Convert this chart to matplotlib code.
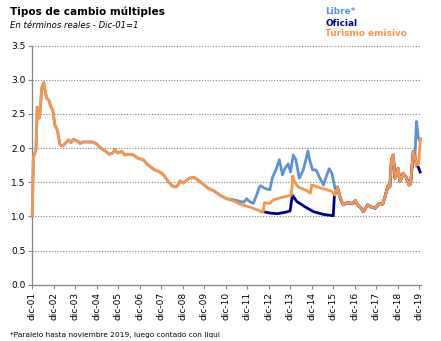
import matplotlib
matplotlib.use("Agg")
from matplotlib import pyplot as plt
import numpy as np

# años desde dic-01 (0 = dic-01) y valores, en términos reales Dic-01=1
# tramo común a las tres series (2002-2010)
comun_t = [0, 0.05, 0.17, 0.23, 0.33, 0.38, 0.44, 0.53, 0.59, 0.67, 0.78, 0.86, 0.95,
           1.05, 1.16, 1.29, 1.38, 1.48, 1.6, 1.69, 1.8, 1.91, 2.03, 2.12, 2.22, 2.34,
           2.53, 2.76, 2.96, 3.15, 3.38, 3.58, 3.74, 3.85, 3.96, 4.16, 4.31, 4.45, 4.7,
           4.93, 5.16, 5.39, 5.7, 5.94, 6.1, 6.33, 6.49, 6.69, 6.78, 6.87, 7.02, 7.15,
           7.3, 7.52, 7.72, 7.95, 8.19, 8.42, 8.65, 8.73, 9.04]
comun_v = [1.0, 1.87, 1.97, 2.6, 2.44, 2.6, 2.88, 2.96, 2.85, 2.73, 2.7, 2.61, 2.56,
           2.34, 2.27, 2.05, 2.03, 2.05, 2.09, 2.12, 2.08, 2.13, 2.11, 2.10, 2.07, 2.09,
           2.09, 2.09, 2.07, 2.01, 1.96, 1.91, 1.93, 1.98, 1.93, 1.95, 1.90, 1.91, 1.90,
           1.85, 1.83, 1.75, 1.68, 1.65, 1.61, 1.51, 1.45, 1.43, 1.46, 1.52, 1.49, 1.52,
           1.56, 1.57, 1.53, 1.47, 1.41, 1.38, 1.33, 1.31, 1.26]

# libre (paralelo) durante el cepo 2011-2015
libre_t = [9.43, 9.66, 9.85, 9.97, 10.1, 10.28, 10.43, 10.55, 10.62, 10.82, 11.05,
           11.18, 11.33, 11.49, 11.64, 11.75, 11.9, 12.01, 12.14, 12.26, 12.42, 12.6,
           12.73, 12.82, 12.9, 13.04, 13.2, 13.38, 13.54, 13.65, 13.81, 13.94, 14.08]
libre_v = [1.24, 1.22, 1.21, 1.26, 1.22, 1.19, 1.31, 1.42, 1.45, 1.41, 1.39,
           1.58, 1.68, 1.83, 1.61, 1.70, 1.77, 1.65, 1.90, 1.83, 1.56, 1.68,
           1.83, 1.96, 1.83, 1.68, 1.68, 1.56, 1.46, 1.56, 1.70, 1.63, 1.41]

# turismo emisivo durante el cepo
turismo_t = [9.43, 9.66, 10.28, 10.67, 10.74, 10.8, 11.05, 11.2, 11.5, 11.9, 12.05,
             12.11, 12.2, 12.37, 12.76, 12.94, 13.0, 13.38, 13.92, 14.08]
turismo_v = [1.22, 1.18, 1.12, 1.07, 1.07, 1.20, 1.19, 1.24, 1.27, 1.30, 1.31,
             1.59, 1.51, 1.43, 1.38, 1.34, 1.46, 1.42, 1.37, 1.31]

# oficial durante el cepo
oficial_t = [10.67, 10.74, 11.05, 11.4, 11.75, 11.99, 12.1, 12.3, 12.69, 13.08,
             13.54, 14.0, 14.05]
oficial_v = [1.07, 1.07, 1.05, 1.04, 1.06, 1.08, 1.31, 1.22, 1.14, 1.07,
             1.03, 1.01, 1.29]

# tramo unificado 2016-2019
unif_t = [14.19, 14.3, 14.38, 14.47, 14.66, 14.9, 15.03, 15.12, 15.3, 15.4, 15.6,
          15.75, 15.95, 16.15, 16.3, 16.4, 16.45, 16.56, 16.63, 16.71, 16.79, 16.87,
          16.95, 17.02, 17.1, 17.25, 17.38, 17.53, 17.6, 17.72, 17.8]
unif_v = [1.43, 1.30, 1.22, 1.17, 1.20, 1.19, 1.23, 1.17, 1.12, 1.07, 1.17,
          1.14, 1.12, 1.19, 1.18, 1.28, 1.34, 1.46, 1.43, 1.83, 1.90, 1.56,
          1.61, 1.70, 1.51, 1.63, 1.58, 1.46, 1.48, 1.95, 1.88]

# cierre 2019 (nuevo cepo)
libre_fin_t = [17.87, 17.96, 18.0]
libre_fin_v = [2.39, 2.15, 2.12]
oficial_fin_t = [17.87, 17.96, 18.04]
oficial_fin_v = [1.75, 1.72, 1.65]
turismo_fin_t = [17.87, 17.96, 18.06]
turismo_fin_v = [1.75, 1.76, 2.14]

etiquetas_x = ["dic-%02d" % a for a in range(1, 20)]

c_libre = "#5b93d8"
c_oficial = "#000090"
c_turismo = "#f7964a"

fig = plt.figure(figsize=(4.41, 3.41), dpi=100)
ax = fig.add_axes([0.0732, 0.165, 0.8814, 0.701])

lib_t = comun_t + libre_t + unif_t + libre_fin_t
lib_v = comun_v + libre_v + unif_v + libre_fin_v
ofi_t = oficial_t + unif_t + oficial_fin_t
ofi_v = oficial_v + unif_v + oficial_fin_v
tur_t = comun_t + turismo_t + unif_t + turismo_fin_t
tur_v = comun_v + turismo_v + unif_v + turismo_fin_v

estilo = dict(lw=2.0, solid_joinstyle="round", zorder=3, clip_on=False)
ax.plot(lib_t, lib_v, color=c_libre, **estilo)
ax.plot(ofi_t, ofi_v, color=c_oficial, **estilo)
ax.plot(tur_t[:-3], tur_v[:-3], color=c_turismo, **estilo)
ax.plot(tur_t[-4:], tur_v[-4:], color=c_turismo, **estilo)

ax.set_xlim(0, 18.08)
ax.set_ylim(0, 3.5)
ax.set_yticks(np.arange(0, 3.51, 0.5))
ax.set_yticklabels(["%.1f" % v for v in np.arange(0, 3.51, 0.5)], fontsize=6.5)
ax.set_xticks(range(19))
ax.set_xticklabels(etiquetas_x, rotation=90, fontsize=6.5)
ax.tick_params(axis="both", colors="#868686", length=3, width=0.8, labelcolor="black", pad=2)

for v in np.arange(0.5, 3.51, 0.5):
    ax.axhline(v, color="#808080", lw=0.8, linestyle=(0, (1, 1.5)), zorder=0)

for s in ["top", "right"]:
    ax.spines[s].set_visible(False)
for s in ["left", "bottom"]:
    ax.spines[s].set_color("#868686")
    ax.spines[s].set_linewidth(0.9)

fig.text(10 / 441, 1 - 12 / 341, "Tipos de cambio múltiples", fontsize=7.6,
         fontweight="bold", va="center", ha="left")
fig.text(10 / 441, 1 - 25 / 341, "En términos reales - Dic-01=1", fontsize=6.1,
         style="italic", va="center", ha="left")

fig.text(325 / 441, 1 - 12 / 341, "Libre*", color=c_libre, fontsize=6.4, fontweight="bold",
         va="center", ha="left")
fig.text(325 / 441, 1 - 23 / 341, "Oficial", color=c_oficial, fontsize=6.4, fontweight="bold",
         va="center", ha="left")
fig.text(325 / 441, 1 - 34 / 341, "Turismo emisivo", color=c_turismo, fontsize=6.4,
         fontweight="bold", va="center", ha="left")

fig.text(10 / 441, 1 - 335 / 341, "*Paralelo hasta noviembre 2019, luego contado con liqui",
         fontsize=5.3, va="center", ha="left")

plt.savefig("out.png", dpi=100)
